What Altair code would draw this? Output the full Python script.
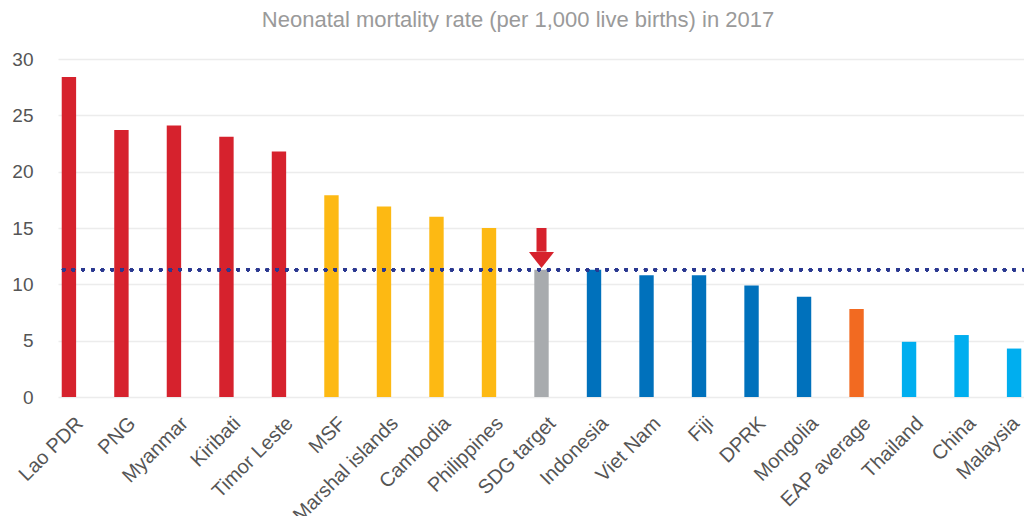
import altair as alt
import pandas as pd

categories = ["Lao PDR", "PNG", "Myanmar", "Kiribati", "Timor Leste", "MSF",
              "Marshal islands", "Cambodia", "Philippines", "SDG target",
              "Indonesia", "Viet Nam", "Fiji", "DPRK", "Mongolia",
              "EAP average", "Thailand", "China", "Malaysia"]
values = [28.4, 23.7, 24.1, 23.1, 21.8, 17.9, 16.9, 16.0, 15.0, 11.3,
          11.3, 10.8, 10.8, 9.9, 8.9, 7.8, 4.9, 5.5, 4.3]
groups = ["high"] * 5 + ["mid"] * 4 + ["target"] + ["low"] * 5 + ["avg"] + ["lowest"] * 3

group_domain = ["high", "mid", "target", "low", "avg", "lowest"]
group_colors = ["#d6222d", "#fdb913", "#a8abae", "#0071bc", "#f26a21", "#00aeef"]

sdg_target = 11.3
arrow_top = 15.0
arrow_shaft_end = 12.9
arrow_head = 12.15

df = pd.DataFrame({"country": categories, "value": values, "group": groups})

x_scale = alt.Scale(paddingInner=0.726, paddingOuter=0.071, range=[0, 967])

x_enc = alt.X("country:N", sort=categories, title=None, scale=x_scale,
              axis=alt.Axis(labelAngle=-45, labelFontSize=20, labelColor="#555555",
                            labelFont="Liberation Sans", domain=False, ticks=False,
                            labelPadding=23,
                            labelOffset={"condition": {"test": "datum.value === 'Malaysia'",
                                                       "value": 2},
                                         "value": 11},
                            labelAlign="right", labelBaseline="middle"))

bars = alt.Chart(df).mark_bar().encode(
    x=x_enc,
    y=alt.Y("value:Q", title=None,
            scale=alt.Scale(domain=[0, 30], nice=False),
            axis=alt.Axis(values=[0, 5, 10, 15, 20, 25, 30], labelFontSize=19,
                          labelColor="#555555", labelFont="Liberation Sans",
                          domain=False, ticks=False, labelPadding=25,
                          gridColor="#ececec", gridWidth=1.5)),
    color=alt.Color("group:N", scale=alt.Scale(domain=group_domain, range=group_colors),
                    legend=None),
)

line = alt.Chart(df).mark_rule(color="#2b3990", strokeWidth=3.5,
                               strokeDash=[0.1, 9.6], strokeCap="round").encode(
    y=alt.datum(sdg_target)
)

arrow_df = pd.DataFrame({"country": ["SDG target"], "top": [arrow_top],
                         "bottom": [arrow_shaft_end], "head": [arrow_head]})

shaft = alt.Chart(arrow_df).mark_rule(color="#d6222d", strokeWidth=10).encode(
    x=alt.X("country:N", sort=categories),
    y="top:Q", y2="bottom:Q")

head = alt.Chart(arrow_df).mark_point(
    shape="M-1,-0.64L1,-0.64L0,0.64Z", size=625, filled=True,
    color="#d6222d", opacity=1, strokeWidth=0).encode(
    x=alt.X("country:N", sort=categories),
    y="head:Q")

chart = alt.layer(bars, line, shaft, head).properties(
    width=966, height=338,
    autosize=alt.AutoSizeParams(type="none"),
    padding={"left": 50, "right": 0, "top": 51, "bottom": 119},
    title=alt.TitleParams("Neonatal mortality rate (per 1,000 live births) in 2017",
                          fontSize=22, fontWeight="normal", color="#9a9a9a",
                          font="Liberation Sans", anchor="middle", dx=-23, dy=-4,
                          offset=14),
).configure_view(stroke=None)

chart.save("out.html", embed_options={"renderer": "svg", "actions": False})
